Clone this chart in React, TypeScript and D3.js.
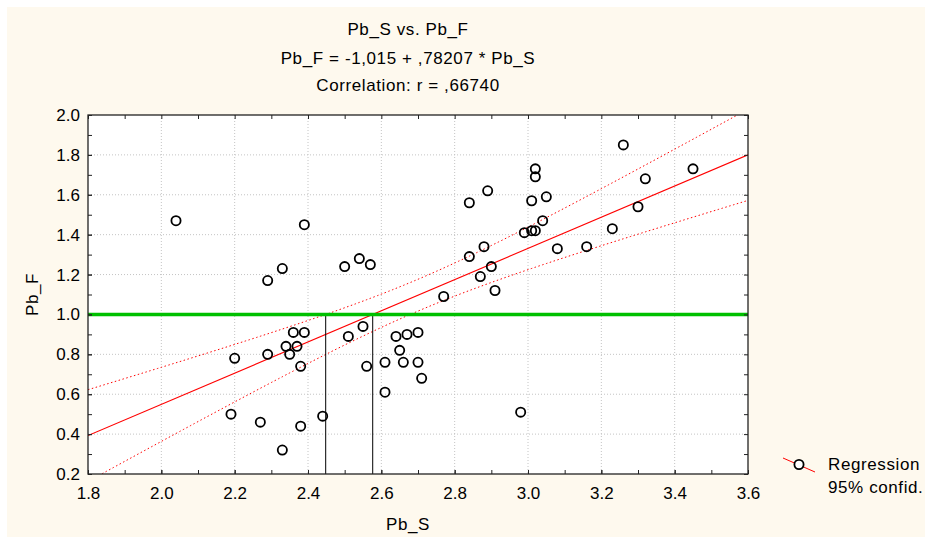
import React, { useEffect, useRef } from 'react'
import * as d3 from 'd3'

// Pb_S (x) and Pb_F (y) readings
const pbS = [2.04, 2.39, 2.29, 2.33, 2.50, 2.54, 2.57, 3.26, 3.02, 3.02, 3.45, 3.32, 2.89, 2.84,
  3.01, 3.05, 3.30, 3.04, 2.99, 3.01, 3.02, 3.23, 2.88, 3.08, 3.16, 2.84, 2.90, 2.87, 2.91, 2.77,
  2.20, 2.29, 2.34, 2.35, 2.36, 2.39, 2.37, 2.38, 2.51, 2.55, 2.56, 2.61, 2.61, 2.64, 2.65, 2.66,
  2.67, 2.19, 2.27, 2.38, 2.33, 2.44, 2.70, 2.70, 2.71, 2.98]
const pbF = [1.47, 1.45, 1.17, 1.23, 1.24, 1.28, 1.25, 1.85, 1.73, 1.69, 1.73, 1.68, 1.62, 1.56,
  1.57, 1.59, 1.54, 1.47, 1.41, 1.42, 1.42, 1.43, 1.34, 1.33, 1.34, 1.29, 1.24, 1.19, 1.12, 1.09,
  0.78, 0.80, 0.84, 0.80, 0.91, 0.91, 0.84, 0.74, 0.89, 0.94, 0.74, 0.76, 0.61, 0.89, 0.82, 0.76,
  0.90, 0.50, 0.46, 0.44, 0.32, 0.49, 0.91, 0.76, 0.68, 0.51]

const xTicks = [1.8, 2.0, 2.2, 2.4, 2.6, 2.8, 3.0, 3.2, 3.4, 3.6]
const yTicks = [0.2, 0.4, 0.6, 0.8, 1.0, 1.2, 1.4, 1.6, 1.8, 2.0]
const xMinor = d3.range(18, 37).map(v => v / 10)
const yMinor = d3.range(2, 21).map(v => v / 10)

const intercept = -1.015
const slope = 0.78207
const refLevel = 1.0
const tCrit = 2.005

const titleLines = ['Pb_S vs. Pb_F', 'Pb_F = -1,015 + ,78207 * Pb_S', 'Correlation: r = ,66740']
const legendLabels = ['Regression', '95% confid.']

const FONT = "Arial, 'Liberation Sans', sans-serif"

function App() {
  const ref = useRef<SVGSVGElement>(null)

  useEffect(() => {
    const svg = d3.select(ref.current)
    svg.selectAll('*').remove()

    const W = 925, H = 537
    const left = 88, right = 748, top = 115, bottom = 474
    const midX = 408

    svg.append('rect').attr('x', 7).attr('y', 7).attr('width', W - 7).attr('height', H - 7)
      .attr('fill', '#fef9ee')

    const x = d3.scaleLinear().domain([1.8, 3.6]).range([left, right])
    const y = d3.scaleLinear().domain([0.2, 2.0]).range([bottom, top])

    svg.append('rect').attr('x', left).attr('y', top)
      .attr('width', right - left).attr('height', bottom - top).attr('fill', '#fff')

    svg.append('clipPath').attr('id', 'plotclip').append('rect')
      .attr('x', left).attr('y', top).attr('width', right - left).attr('height', bottom - top)

    // grid
    const grid = svg.append('g').attr('stroke', '#c4c4c4').attr('stroke-dasharray', '1,2')
    grid.selectAll('.gx').data(xTicks.slice(1, -1)).join('line')
      .attr('x1', d => x(d)).attr('x2', d => x(d)).attr('y1', top).attr('y2', bottom)
    grid.selectAll('.gy').data(yTicks.slice(1, -1)).join('line')
      .attr('x1', left).attr('x2', right).attr('y1', d => y(d)).attr('y2', d => y(d))

    // regression + confidence band
    const n = pbS.length
    const xbar = d3.mean(pbS) as number
    const sxx = d3.sum(pbS, v => (v - xbar) ** 2)
    const sse = d3.sum(pbS, (v, i) => (pbF[i] - (intercept + slope * v)) ** 2)
    const s = Math.sqrt(sse / (n - 2))
    const fit = (v: number) => intercept + slope * v
    const half = (v: number) => tCrit * s * Math.sqrt(1 / n + (v - xbar) ** 2 / sxx)

    const xs = d3.range(1.8, 3.6001, 0.01)
    const plot = svg.append('g').attr('clip-path', 'url(#plotclip)')

    const line = d3.line<number>().x(d => x(d))
    plot.append('path').datum(xs).attr('fill', 'none').attr('stroke', '#ff0000')
      .attr('stroke-width', 1).attr('stroke-dasharray', '1.5,2.5')
      .attr('d', line.y(d => y(fit(d) + half(d)))(xs) as string)
    plot.append('path').datum(xs).attr('fill', 'none').attr('stroke', '#ff0000')
      .attr('stroke-width', 1).attr('stroke-dasharray', '1.5,2.5')
      .attr('d', line.y(d => y(fit(d) - half(d)))(xs) as string)
    plot.append('path').attr('fill', 'none').attr('stroke', '#ff0000').attr('stroke-width', 1.1)
      .attr('d', line.y(d => y(fit(d)))([1.8, 3.6]) as string)

    // where the fit and the upper band reach the reference level
    const xFit = (refLevel - intercept) / slope
    let lo = 1.8, hi = xFit
    for (let k = 0; k < 50; k++) {
      const m = (lo + hi) / 2
      if (fit(m) + half(m) < refLevel) lo = m
      else hi = m
    }
    const drops = [(lo + hi) / 2, xFit]
    svg.selectAll('.drop').data(drops).join('line').attr('class', 'drop')
      .attr('x1', d => x(d)).attr('x2', d => x(d)).attr('y1', y(refLevel)).attr('y2', bottom)
      .attr('stroke', '#000').attr('stroke-width', 1)

    svg.append('line').attr('x1', left).attr('x2', right)
      .attr('y1', y(refLevel)).attr('y2', y(refLevel))
      .attr('stroke', '#00c000').attr('stroke-width', 3.5)

    // points
    svg.selectAll('.pt').data(pbS).join('circle').attr('class', 'pt')
      .attr('cx', d => x(d)).attr('cy', (d, i) => y(pbF[i])).attr('r', 4.6)
      .attr('fill', 'none').attr('stroke', '#000').attr('stroke-width', 1.8)

    // frame
    svg.append('rect').attr('x', left).attr('y', top)
      .attr('width', right - left).attr('height', bottom - top)
      .attr('fill', 'none').attr('stroke', '#222').attr('stroke-width', 1.3)

    // axes
    const tidy = (g: any) => {
      g.select('.domain').remove()
      g.selectAll('line').attr('stroke', '#222')
      g.selectAll('text').attr('font-family', FONT).attr('font-size', 17).attr('fill', '#000')
    }
    svg.append('g').attr('transform', `translate(0,${bottom})`)
      .call(d3.axisBottom(x).tickValues(xMinor).tickSize(-4).tickFormat(() => '')).call(tidy)
    svg.append('g').attr('transform', `translate(0,${bottom})`)
      .call(d3.axisBottom(x).tickValues(xTicks).tickSize(-4).tickPadding(13)
        .tickFormat(d3.format('.1f') as any)).call(tidy)
    svg.append('g').attr('transform', `translate(0,${top})`)
      .call(d3.axisTop(x).tickValues(xMinor).tickSize(-4).tickFormat(() => '')).call(tidy)
    svg.append('g').attr('transform', `translate(${left},0)`)
      .call(d3.axisLeft(y).tickValues(yMinor).tickSize(-4).tickFormat(() => '')).call(tidy)
    svg.append('g').attr('transform', `translate(${left},0)`)
      .call(d3.axisLeft(y).tickValues(yTicks).tickSize(-4).tickPadding(8)
        .tickFormat(d3.format('.1f') as any)).call(tidy)
    svg.append('g').attr('transform', `translate(${right},0)`)
      .call(d3.axisRight(y).tickValues(yMinor).tickSize(-4).tickFormat(() => '')).call(tidy)

    // titles
    svg.selectAll('.title').data(titleLines).join('text').attr('class', 'title')
      .attr('x', midX).attr('y', (d, i) => [35, 63.5, 90.5][i])
      .attr('text-anchor', 'middle').attr('font-family', FONT).attr('font-size', 17)
      .attr('letter-spacing', 0.6).text(d => d)

    svg.append('text').attr('x', midX).attr('y', 530).attr('text-anchor', 'middle')
      .attr('font-family', FONT).attr('font-size', 17).attr('letter-spacing', 0.6).text('Pb_S')
    svg.append('text').attr('text-anchor', 'middle')
      .attr('transform', `translate(38,${(top + bottom) / 2}) rotate(-90)`)
      .attr('font-family', FONT).attr('font-size', 17).attr('letter-spacing', 0.6).text('Pb_F')

    // legend
    svg.append('line').attr('x1', 783).attr('y1', 458).attr('x2', 815).attr('y2', 472)
      .attr('stroke', '#ff0000').attr('stroke-width', 1)
    svg.append('circle').attr('cx', 799).attr('cy', 464.5).attr('r', 4.6)
      .attr('fill', '#fff').attr('stroke', '#000').attr('stroke-width', 1.8)
    svg.selectAll('.leg').data(legendLabels).join('text').attr('class', 'leg')
      .attr('x', 828).attr('y', (d, i) => 470 + i * 22.5)
      .attr('font-family', FONT).attr('font-size', 17).attr('letter-spacing', 0.6).text(d => d)
  }, [])

  return (
    <svg ref={ref} width={925} height={537}
      style={{ position: 'absolute', left: 0, top: 0, display: 'block' }} />
  )
}

export default App
